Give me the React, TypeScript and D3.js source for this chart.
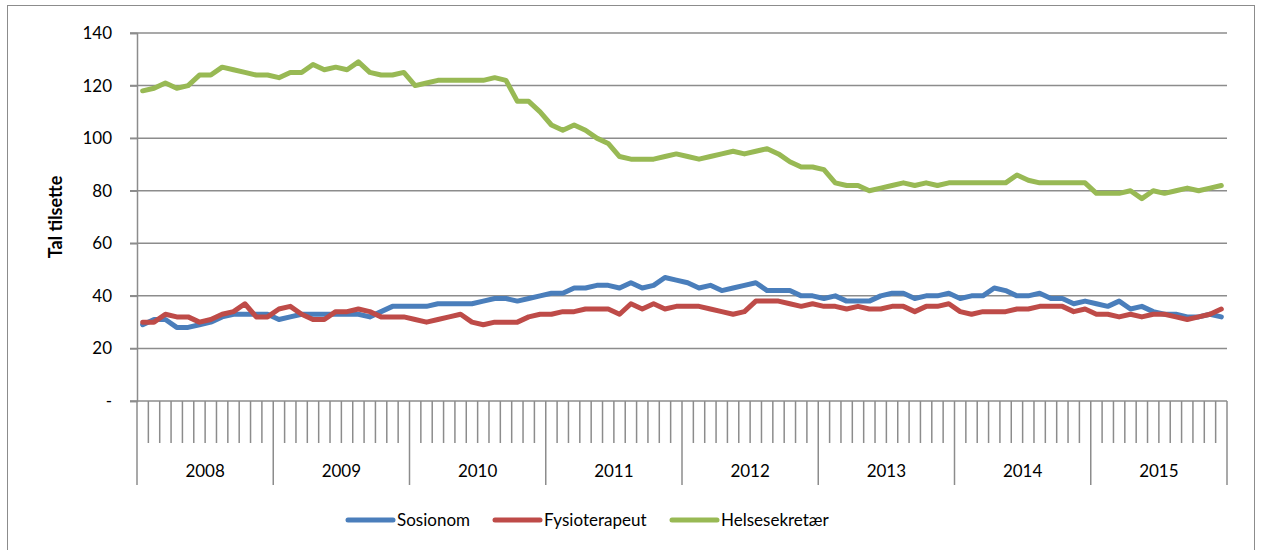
import { useEffect, useRef } from 'react';
import * as d3 from 'd3';

const WIDTH = 1264;
const HEIGHT = 550;
const GRID = '#8c8c8c';
const INK = '#000000';
const FONT = 'Lato, "Open Sans", "Liberation Sans", sans-serif';

const YEARS = ['2008', '2009', '2010', '2011', '2012', '2013', '2014', '2015'];
const MONTHS = ['01', '02', '03', '04', '05', '06', '07', '08', '09', '10', '11', '12'];
const Y_TICKS = [0, 20, 40, 60, 80, 100, 120, 140];

const sosionom = [
  29, 31, 31, 28, 28, 29, 30, 32, 33, 33, 33, 33,
  31, 32, 33, 33, 33, 33, 33, 33, 32, 34, 36, 36,
  36, 36, 37, 37, 37, 37, 38, 39, 39, 38, 39, 40,
  41, 41, 43, 43, 44, 44, 43, 45, 43, 44, 47, 46,
  45, 43, 44, 42, 43, 44, 45, 42, 42, 42, 40, 40,
  39, 40, 38, 38, 38, 40, 41, 41, 39, 40, 40, 41,
  39, 40, 40, 43, 42, 40, 40, 41, 39, 39, 37, 38,
  37, 36, 38, 35, 36, 34, 33, 33, 32, 32, 33, 32,
];

const fysioterapeut = [
  30, 30, 33, 32, 32, 30, 31, 33, 34, 37, 32, 32,
  35, 36, 33, 31, 31, 34, 34, 35, 34, 32, 32, 32,
  31, 30, 31, 32, 33, 30, 29, 30, 30, 30, 32, 33,
  33, 34, 34, 35, 35, 35, 33, 37, 35, 37, 35, 36,
  36, 36, 35, 34, 33, 34, 38, 38, 38, 37, 36, 37,
  36, 36, 35, 36, 35, 35, 36, 36, 34, 36, 36, 37,
  34, 33, 34, 34, 34, 35, 35, 36, 36, 36, 34, 35,
  33, 33, 32, 33, 32, 33, 33, 32, 31, 32, 33, 35,
];

const helsesekretaer = [
  118, 119, 121, 119, 120, 124, 124, 127, 126, 125, 124, 124,
  123, 125, 125, 128, 126, 127, 126, 129, 125, 124, 124, 125,
  120, 121, 122, 122, 122, 122, 122, 123, 122, 114, 114, 110,
  105, 103, 105, 103, 100, 98, 93, 92, 92, 92, 93, 94,
  93, 92, 93, 94, 95, 94, 95, 96, 94, 91, 89, 89,
  88, 83, 82, 82, 80, 81, 82, 83, 82, 83, 82, 83,
  83, 83, 83, 83, 83, 86, 84, 83, 83, 83, 83, 83,
  79, 79, 79, 80, 77, 80, 79, 80, 81, 80, 81, 82,
];

const SERIES = [
  { name: 'Sosionom', color: '#4a7ebb', values: sosionom },
  { name: 'Fysioterapeut', color: '#be4b48', values: fysioterapeut },
  { name: 'Helsesekretær', color: '#98b954', values: helsesekretaer },
];

const LEGEND_X = [348, 495, 672];

export default function App() {
  const ref = useRef<SVGSVGElement>(null);

  useEffect(() => {
    const svg = d3.select(ref.current);
    if (!svg.node()) return;
    svg.selectAll('*').remove();

    const margin = { top: 33, right: 37, bottom: 149, left: 137 };
    const plotBottom = HEIGHT - margin.bottom;
    const plotRight = WIDTH - margin.right;

    const months = YEARS.flatMap((y) => MONTHS.map((m) => `${y}-${m}`));
    const x = d3.scaleBand().domain(months).range([margin.left, plotRight]).padding(0);
    const y = d3.scaleLinear().domain([0, 140]).range([plotBottom, margin.top]);

    // outer frame
    svg
      .append('rect')
      .attr('x', 7.5)
      .attr('y', 5.5)
      .attr('width', 1247)
      .attr('height', 560)
      .attr('fill', 'none')
      .attr('stroke', GRID)
      .attr('stroke-width', 1);

    // gridlines
    svg
      .append('g')
      .selectAll('line')
      .data(Y_TICKS.filter((t) => t > 0))
      .join('line')
      .attr('x1', margin.left - 7)
      .attr('x2', plotRight)
      .attr('y1', (d) => y(d))
      .attr('y2', (d) => y(d))
      .attr('stroke', GRID)
      .attr('stroke-width', 1.5);

    // y axis
    const yAxis = svg
      .append('g')
      .attr('transform', `translate(${margin.left},0)`)
      .call(
        d3
          .axisLeft(y)
          .tickValues(Y_TICKS)
          .tickSize(7)
          .tickPadding(18)
          .tickFormat((d) => (d === 0 ? '-' : String(d))),
      );
    yAxis.select('.domain').attr('stroke', GRID).attr('stroke-width', 1.5);
    yAxis.selectAll('.tick line').attr('stroke', GRID).attr('stroke-width', 1.5);
    yAxis
      .selectAll('.tick text')
      .attr('fill', INK)
      .attr('font-size', 17)
      .attr('font-family', FONT);

    // x axis line
    svg
      .append('line')
      .attr('x1', margin.left - 7)
      .attr('x2', plotRight)
      .attr('y1', plotBottom)
      .attr('y2', plotBottom)
      .attr('stroke', GRID)
      .attr('stroke-width', 1.5);

    // month boundaries and year separators
    const bounds = d3.range(months.length + 1);
    svg
      .append('g')
      .selectAll('line')
      .data(bounds)
      .join('line')
      .attr('x1', (i) => margin.left + i * x.step())
      .attr('x2', (i) => margin.left + i * x.step())
      .attr('y1', plotBottom)
      .attr('y2', (i) => (i % 12 === 0 ? plotBottom + 84 : plotBottom + 42))
      .attr('stroke', GRID)
      .attr('stroke-width', 1.5);

    svg
      .append('g')
      .selectAll('text')
      .data(YEARS)
      .join('text')
      .attr('x', (d) => x(`${d}-06`)! + x.step())
      .attr('y', plotBottom + 76)
      .attr('text-anchor', 'middle')
      .attr('fill', INK)
      .attr('font-size', 17)
      .attr('font-family', FONT)
      .text((d) => d);

    // axis title
    svg
      .append('text')
      .attr('transform', `translate(62,${(margin.top + plotBottom) / 2}) rotate(-90)`)
      .attr('text-anchor', 'middle')
      .attr('fill', INK)
      .attr('font-size', 18)
      .attr('font-weight', 'bold')
      .attr('font-family', FONT)
      .text('Tal tilsette');

    // lines
    const line = d3
      .line<number>()
      .x((_, i) => x(months[i])! + x.bandwidth() / 2)
      .y((d) => y(d));

    svg
      .append('g')
      .selectAll('path')
      .data(SERIES)
      .join('path')
      .attr('d', (s) => line(s.values))
      .attr('fill', 'none')
      .attr('stroke', (s) => s.color)
      .attr('stroke-width', 5)
      .attr('stroke-linejoin', 'round')
      .attr('stroke-linecap', 'round');

    // legend
    const legend = svg
      .append('g')
      .selectAll('g')
      .data(SERIES)
      .join('g')
      .attr('transform', (_, i) => `translate(${LEGEND_X[i]},520)`);
    legend
      .append('line')
      .attr('x1', 0)
      .attr('x2', 45)
      .attr('stroke', (s) => s.color)
      .attr('stroke-width', 5)
      .attr('stroke-linecap', 'round');
    legend
      .append('text')
      .attr('x', 49)
      .attr('y', 6)
      .attr('fill', INK)
      .attr('font-size', 17)
      .attr('font-family', FONT)
      .text((s) => s.name);
  }, []);

  return (
    <div style={{ position: 'absolute', left: 0, top: 0, width: WIDTH, height: HEIGHT, background: '#fff' }}>
      <svg ref={ref} width={WIDTH} height={HEIGHT} />
    </div>
  );
}
